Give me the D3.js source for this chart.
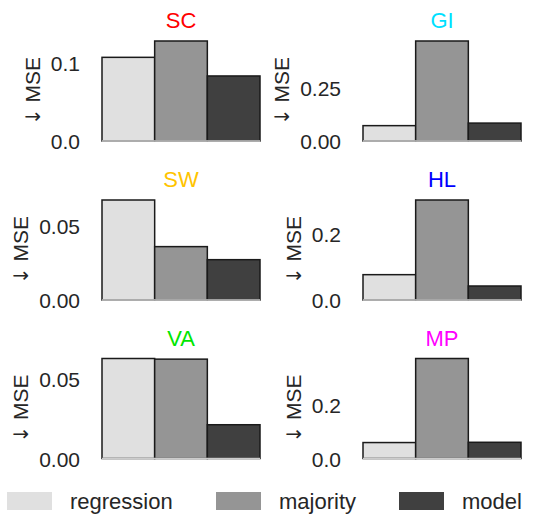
<!DOCTYPE html>
<html>
<head>
<meta charset="utf-8">
<script src="https://cdn.jsdelivr.net/npm/d3@7"></script>
<style>
  html, body { margin: 0; padding: 0; background: #fff; }
  svg { display: block; font-family: "Liberation Sans", Arial, sans-serif; }
</style>
</head>
<body>
<svg id="chart" width="553" height="515"></svg>
<script>
const methods = ["regression", "majority", "model"];
const methodColors = ["#e0e0e0", "#959595", "#404040"];
const panelNames = ["SC", "GI", "SW", "HL", "VA", "MP"];
const titleColors = ["#ff0000", "#00e0ff", "#ffc400", "#0000ff", "#00e600", "#ff00ff"];
const scValues = [0.106, 0.1267, 0.0824];
const giValues = [0.072, 0.469, 0.084];
const swValues = [0.0667, 0.0356, 0.0269];
const hlValues = [0.076, 0.300, 0.042];
const vaValues = [0.0622, 0.0618, 0.021];
const mpValues = [0.059, 0.370, 0.060];
const panelValues = [scValues, giValues, swValues, hlValues, vaValues, mpValues];
const panelTicks = [[0, 0.1], [0, 0.25], [0, 0.05], [0, 0.2], [0, 0.05], [0, 0.2]];
const tickFormats = [".1f", ".2f", ".2f", ".1f", ".2f", ".1f"];
const yLabelArrow = "\u2193";
const yLabelText = "MSE";

const svg = d3.select("#chart");
const colLeft = [102, 363];
const rowTop = [41, 200, 358.5];
const plotW = 158, plotH = 100;
const textColor = "#262626";

panelNames.forEach((name, i) => {
  const col = i % 2, row = Math.floor(i / 2);
  const left = colLeft[col], top = rowTop[row];
  const vals = panelValues[i];
  const g = svg.append("g");
  const x = d3.scaleBand().domain(methods).range([left, left + plotW]).paddingInner(0).paddingOuter(0);
  const y = d3.scaleLinear().domain([0, d3.max(vals)]).range([top + plotH, top]);

  g.selectAll("rect.bar").data(methods).enter().append("rect")
    .attr("class", "bar")
    .attr("x", d => x(d))
    .attr("width", x.bandwidth())
    .attr("y", (d, j) => y(vals[j]))
    .attr("height", (d, j) => y(0) - y(vals[j]))
    .attr("fill", (d, j) => methodColors[j])
    .attr("stroke", "#1a1a1a")
    .attr("stroke-width", 1.5);

  // bottom spine
  g.append("line")
    .attr("x1", left).attr("x2", left + plotW)
    .attr("y1", y(0)).attr("y2", y(0))
    .attr("stroke", "#cccccc").attr("stroke-width", 1.5);

  const axis = d3.axisLeft(y).tickValues(panelTicks[i]).tickFormat(d3.format(tickFormats[i])).tickSize(0).tickPadding(22);
  const ag = g.append("g").attr("transform", `translate(${left},0)`).call(axis);
  ag.select(".domain").remove();
  ag.selectAll("text")
    .attr("font-size", 21)
    .attr("font-family", "Liberation Sans, Arial, sans-serif")
    .attr("fill", textColor)
    .attr("dy", "0.38em");

  let minX = Infinity;
  ag.selectAll("text").each(function() {
    const b = this.getBBox();
    minX = Math.min(minX, left + b.x);
  });

  const yl = g.append("text")
    .attr("transform", `translate(${minX - 11},${top + plotH / 2}) rotate(-90)`)
    .attr("text-anchor", "middle")
    .attr("font-size", 21)
    .attr("fill", textColor);
  yl.append("tspan").attr("font-family", "DejaVu Sans, sans-serif").attr("font-size", 20).text(yLabelArrow);
  yl.append("tspan").text(" " + yLabelText);

  g.append("text")
    .attr("x", left + plotW / 2)
    .attr("y", top - 13)
    .attr("text-anchor", "middle")
    .attr("font-size", 22)
    .attr("fill", titleColors[i])
    .text(name);
});

const legendX = [7, 216, 399];
const legend = svg.append("g");
methods.forEach((m, j) => {
  legend.append("rect")
    .attr("x", legendX[j]).attr("y", 492)
    .attr("width", 45).attr("height", 18)
    .attr("fill", methodColors[j]);
  legend.append("text")
    .attr("x", legendX[j] + 63).attr("y", 501.5)
    .attr("dy", "0.35em")
    .attr("font-size", 22)
    .attr("fill", textColor)
    .text(m);
});
</script>
</body>
</html>
